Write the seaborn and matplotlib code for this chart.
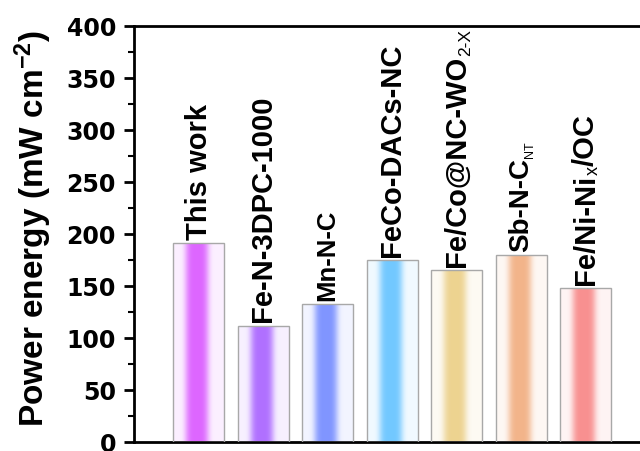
import numpy as np
import matplotlib
matplotlib.use("Agg")
import matplotlib.pyplot as plt
import seaborn as sns
import pandas as pd
from matplotlib.colors import to_rgb

# Peak power densities of the compared catalysts
label_main = ["This work", "Fe-N-3DPC-1000", "Mn-N-C", "FeCo-DACs-NC",
              "Fe/Co@NC-WO", "Sb-N-C", "Fe/Ni-Ni"]
label_sub = ["", "", "", "", "2-X", "NT", "x"]
label_tail = ["", "", "", "", "", "", "/OC"]
power = [191, 112, 133, 175, 165, 180, 148]
bar_colors = ["#DD66FF", "#B070FF", "#8095FF", "#72C8FF",
              "#EDD390", "#F2B48A", "#F89090"]
y_ticks = [0, 50, 100, 150, 200, 250, 300, 350, 400]

catalysts = [m + s + t for m, s, t in zip(label_main, label_sub, label_tail)]
main_sizes = [21, 21, 18.5, 21, 21, 20, 21]
sub_sizes = [0, 0, 0, 0, 12.5, 9, 13]

sns.set_theme(style="ticks")
plt.rcParams["font.family"] = ["Liberation Sans", "DejaVu Sans"]
plt.rcParams["font.weight"] = "bold"
plt.rcParams["mathtext.fontset"] = "custom"
plt.rcParams["mathtext.rm"] = "Liberation Sans"
plt.rcParams["mathtext.default"] = "regular"
for key in ["text.color", "axes.labelcolor", "xtick.color", "ytick.color",
            "axes.edgecolor"]:
    plt.rcParams[key] = "black"

fig = plt.figure(figsize=(6.4, 4.52), dpi=100)
ax = fig.add_axes([134 / 640, 9 / 452, 581 / 640, 416 / 452])

df = pd.DataFrame({"catalyst": catalysts, "power": power})
sns.barplot(data=df, x="catalyst", y="power", width=0.79, ax=ax,
            color="white", edgecolor="#A8A8A8", linewidth=1.0)

# horizontal gradient inside each bar: pale edges, saturated core
t = np.linspace(0, 1, 256)
mix = 0.10 + 0.90 * np.exp(-((t - 0.47) / 0.23) ** 4)
for patch, col in zip(ax.patches, bar_colors):
    x0, w, h = patch.get_x(), patch.get_width(), patch.get_height()
    base = np.array(to_rgb(col))
    img = 1 - mix[None, :, None] * (1 - base[None, None, :])
    img = np.repeat(img, 2, axis=0)
    patch.set_facecolor("none")
    patch.set_zorder(3)
    im = ax.imshow(img, extent=[x0, x0 + w, 0, h], aspect="auto",
                   zorder=2, interpolation="bilinear")
    im.set_clip_path(patch)

# vertical labels above the bars, with small regular-weight subscripts
for i, v in enumerate(power):
    main = ax.text(i, v + 4, label_main[i], rotation=90, ha="center",
                   va="bottom", fontsize=main_sizes[i], fontweight="bold")
    if label_sub[i]:
        sub = ax.annotate(label_sub[i], xy=(1, 1), xycoords=main,
                          xytext=(1.5, 0), textcoords="offset points",
                          rotation=90, ha="right", va="bottom",
                          fontsize=sub_sizes[i], fontweight="normal")
        if label_tail[i]:
            ax.annotate(label_tail[i], xy=(1, 1), xycoords=(main, sub),
                        rotation=90, ha="right", va="bottom",
                        fontsize=main_sizes[i], fontweight="bold")

ax.set_xlim(-1, 8)
ax.set_ylim(0, 400)
ax.set_yticks(y_ticks)
ax.set_yticks(np.arange(25, 400, 50), minor=True)
ax.set_xticks([])
ax.set_xlabel("")
ax.set_ylabel("Power energy (mW cm$^{-2}$)", fontsize=24, fontweight="bold")
ax.yaxis.set_label_coords(-0.137, 0.517)
ax.tick_params(axis="y", which="major", direction="out", length=7, width=2,
               pad=6)
ax.tick_params(axis="y", which="minor", direction="out", length=4, width=1.5)
for lbl in ax.get_yticklabels():
    lbl.set_fontfamily("DejaVu Sans")
    lbl.set_fontweight("bold")
    lbl.set_fontsize(17)
for side in ["left", "bottom", "top"]:
    ax.spines[side].set_linewidth(2)
    ax.spines[side].set_color("black")
ax.spines["right"].set_visible(False)

fig.savefig("out.png", dpi=100)
